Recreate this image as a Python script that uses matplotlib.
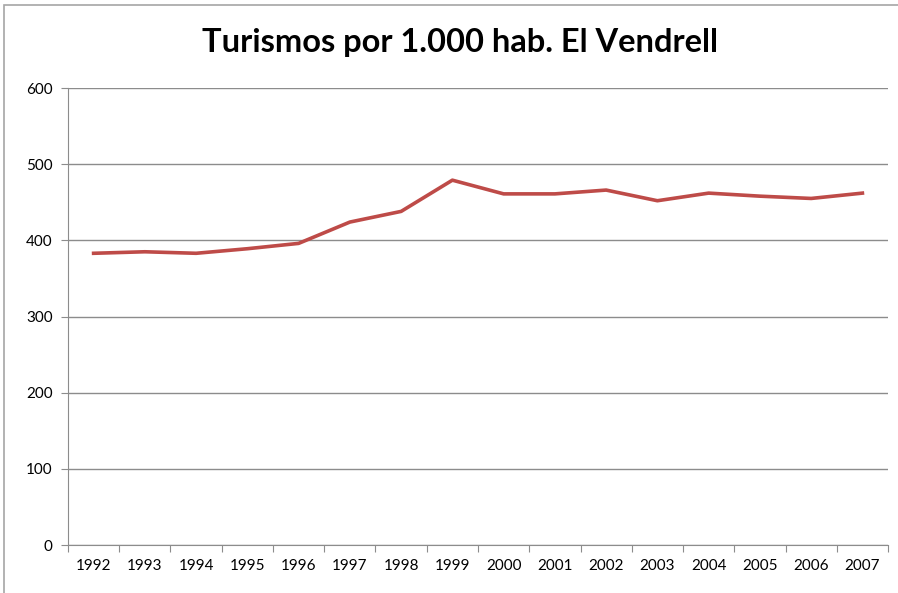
import matplotlib.pyplot as plt
import numpy as np
from matplotlib.patches import Rectangle

years = ['1992', '1993', '1994', '1995', '1996', '1997', '1998', '1999',
         '2000', '2001', '2002', '2003', '2004', '2005', '2006', '2007']
turismos = [383, 385, 383, 389, 396, 424, 438, 479,
            461, 461, 466, 452, 462, 458, 455, 462]

plt.rcParams['font.family'] = ['Lato', 'DejaVu Sans']

fig = plt.figure(figsize=(8.98, 5.93), dpi=100)
ax = fig.add_axes([0.0757, 0.0809, 0.9132, 0.7707])

# marco del grafico
fig.patches.append(Rectangle((0.005, -0.01), 1.2, 1.0015, transform=fig.transFigure,
                             fill=False, edgecolor='#A6A6A6', linewidth=1.2))

x = np.arange(len(years))
ax.plot(x, turismos, color='#BE4B48', linewidth=2.6, solid_joinstyle='round')

ax.set_xlim(-0.5, len(years) - 0.5)
ax.set_ylim(0, 600)
ax.set_yticks(range(0, 601, 100))
ax.yaxis.grid(True, color='#8C8C8C', linewidth=1)
ax.set_axisbelow(True)

ax.set_xticks(np.arange(-0.5, len(years), 1.0))
ax.set_xticklabels([])
ax.set_xticks(x, minor=True)
ax.set_xticklabels(years, minor=True)
ax.tick_params(axis='x', which='minor', length=0, pad=10, labelsize=11)
ax.tick_params(axis='x', which='major', length=5, color='#8C8C8C')
ax.tick_params(axis='y', length=5, color='#8C8C8C', labelsize=11, pad=6)

for s in ['top', 'right']:
    ax.spines[s].set_visible(False)
ax.spines['left'].set_color('#8C8C8C')
ax.spines['bottom'].set_color('#8C8C8C')

fig.text(0.512, 0.928, 'Turismos por 1.000 hab. El Vendrell', ha='center', va='center',
         fontsize=23.5, fontweight='bold')

fig.savefig('out.png', dpi=100)
